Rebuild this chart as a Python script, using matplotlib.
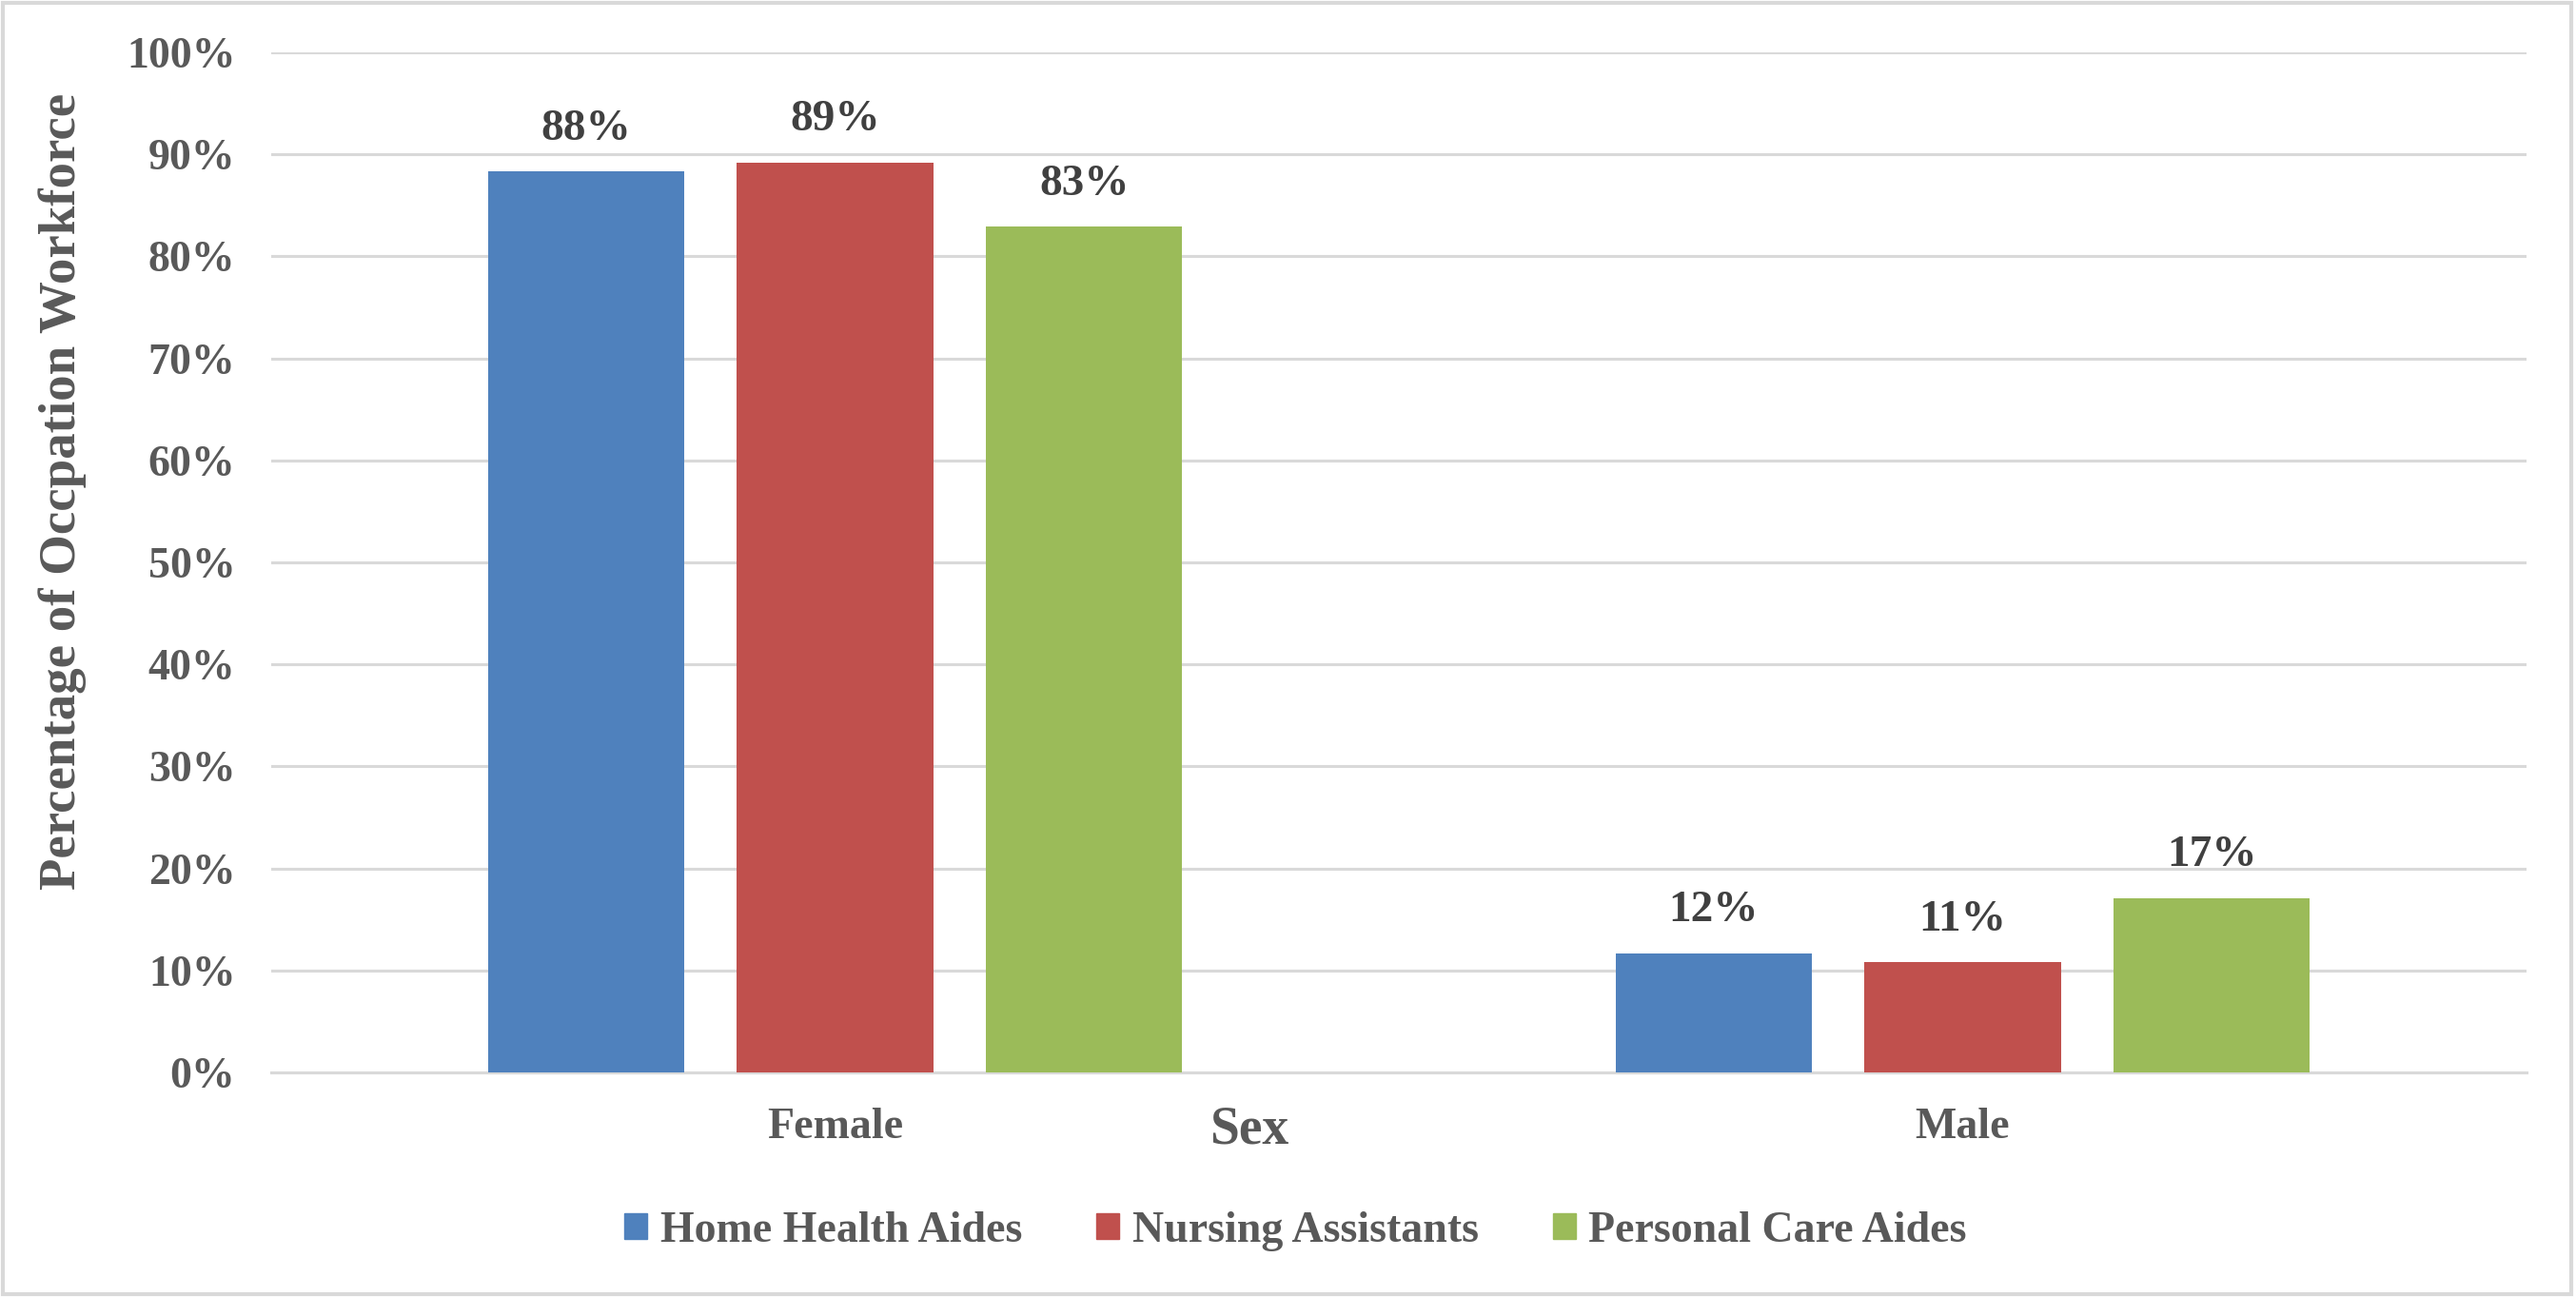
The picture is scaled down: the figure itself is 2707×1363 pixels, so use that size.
import matplotlib
matplotlib.use("Agg")
import matplotlib.pyplot as plt
from matplotlib.patches import Patch, Rectangle
import numpy as np

categories = ["Female", "Male"]
series_names = ["Home Health Aides", "Nursing Assistants", "Personal Care Aides"]
home_health = [88.3, 11.7]
nursing = [89.2, 10.8]
personal_care = [82.9, 17.1]
labels_home = ["88%", "12%"]
labels_nursing = ["89%", "11%"]
labels_personal = ["83%", "17%"]
yticks = [0, 10, 20, 30, 40, 50, 60, 70, 80, 90, 100]
colors = ["#4F81BD", "#C0504D", "#9BBB59"]

W, H = 2707, 1363
fig = plt.figure(figsize=(W / 100, H / 100), dpi=100)
plt.rcParams['font.family'] = ['Liberation Serif', 'DejaVu Serif']

left, right, top, bottom = 285, 2655, 55, 1127
ax = fig.add_axes([left / W, 1 - bottom / H, (right - left) / W, (bottom - top) / H])

x = np.arange(len(categories))
bw = 0.174
offs = [-0.221, 0.0, 0.221]
series = [home_health, nursing, personal_care]
labs = [labels_home, labels_nursing, labels_personal]
for s, off, c, lab, name in zip(series, offs, colors, labs, series_names):
    bars = ax.bar(x + off, s, width=bw, color=c, zorder=3, label=name)
    for b, t in zip(bars, lab):
        ax.annotate(t, (b.get_x() + b.get_width() / 2, b.get_height()),
                    xytext=(0, 17), textcoords="offset points",
                    ha="center", va="bottom", fontsize=34, fontweight="bold",
                    color="#404040")

ax.set_xlim(-0.5, 1.5)
ax.set_ylim(0, 100)
ax.set_yticks(yticks)
ax.set_yticklabels([f"{v}%" for v in yticks])
ax.set_xticks(x)
ax.set_xticklabels(categories)
ax.tick_params(axis="y", length=0, pad=27, labelsize=33, labelcolor="#595959")
ax.tick_params(axis="x", length=0, pad=27, labelsize=33, labelcolor="#595959")
for lbl in ax.get_yticklabels() + ax.get_xticklabels():
    lbl.set_fontweight("bold")
ax.grid(axis="y", color="#D9D9D9", linewidth=2.2, zorder=0)
for sp in ["left", "right", "top"]:
    ax.spines[sp].set_visible(False)
ax.spines["bottom"].set_color("#D9D9D9")
ax.spines["bottom"].set_linewidth(2.2)

fig.text(66 / W, 1 - 516 / H, "Percentage of Occpation Workforce", rotation=90,
         ha="center", va="center", fontsize=39.5, fontweight="bold", color="#595959")
fig.text(1313 / W, 1 - 1187 / H, "Sex", ha="center", va="center",
         fontsize=40, fontweight="bold", color="#595959")

handles = [Patch(color=c) for c in colors]
leg = fig.legend(handles, series_names, loc="center", bbox_to_anchor=(0.503, 1 - 1294 / H),
                 ncol=3, frameon=False, handlelength=0.52, handleheight=0.52,
                 handletextpad=0.3, columnspacing=1.7,
                 prop={"size": 33, "weight": "bold"})
for t in leg.get_texts():
    t.set_color("#595959")

fig.add_artist(Rectangle((0.001, 0.002), 0.997, 0.996, transform=fig.transFigure,
                         fill=False, edgecolor="#D9D9D9", linewidth=3))

fig.savefig("out.png", dpi=100)
